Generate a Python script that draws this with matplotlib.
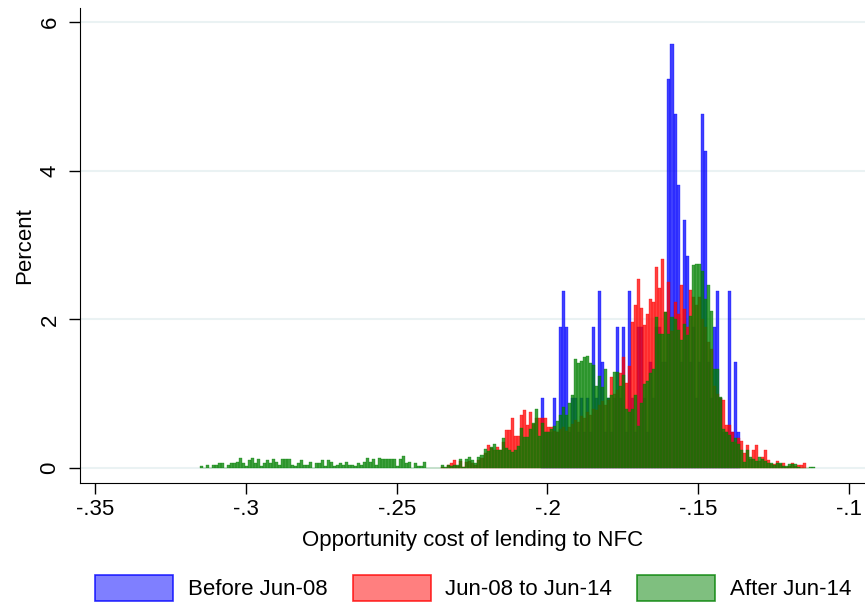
import numpy as np
import matplotlib
matplotlib.use("Agg")
import matplotlib.pyplot as plt
from matplotlib.patches import Patch

plt.rcParams['font.family'] = ['Liberation Sans', 'DejaVu Sans']

# bin width and first bin of each series (percent per bin)
bin_w = 0.001
green_start = -0.3152
red_start = green_start + 80 * bin_w
blue_start = green_start + 113 * bin_w

blue_pct = [0.95, 0.48, 0.48, 0.48, 0.95, 0.48, 1.90, 2.38, 1.90, 0.48,
            0.95, 0.95, 0.48, 0.95, 0.48, 0.95, 0.48, 1.90, 0.95, 2.38,
            1.43, 0.48, 0.95, 0.48, 0.95, 1.90, 0.95, 1.90, 0.48, 2.38,
            0.95, 0.48, 1.90, 1.90, 0.95, 0.48, 1.43, 0.95, 1.90, 1.90,
            1.43, 1.43, 5.24, 5.71, 4.76, 3.81, 1.43, 3.34, 2.85, 1.43,
            1.90, 0.95, 1.43, 4.76, 4.27, 1.43, 0.95, 1.90, 2.38, 0.95,
            0.48, 0.48, 2.38, 0.48, 1.43, 0.48]

red_pct = [0.02, 0.0, 0.04, 0.076, 0.11, 0.03, 0.10, 0.02, 0.08, 0.10,
           0.07, 0.04, 0.11, 0.14, 0.20, 0.31, 0.27, 0.25, 0.28, 0.24,
           0.35, 0.51, 0.51, 0.68, 0.43, 0.43, 0.71, 0.78, 0.58, 0.76,
           0.59, 0.68, 0.68,
           0.68, 0.68, 0.55, 0.55, 0.50, 0.48, 0.52, 0.55, 0.50, 0.55,
           0.60, 0.65, 0.62, 0.70, 0.68, 0.75, 0.72, 0.80, 0.78, 0.85,
           0.90, 0.85, 0.92,
           1.22, 1.00, 1.05, 1.28, 1.49, 1.15, 1.38, 1.96, 2.20, 2.54,
           2.16, 1.93, 2.07, 2.27, 2.23, 2.70, 2.43,
           2.81, 2.10, 2.51, 1.85, 2.23, 2.07, 2.47, 2.14, 1.90, 2.40,
           2.30, 2.20, 2.30, 2.00, 1.90, 1.70, 1.60, 1.10, 1.00, 0.95,
           0.92, 0.58, 0.58, 0.48, 0.35, 0.40, 0.37, 0.21, 0.31, 0.12,
           0.24, 0.31, 0.10, 0.15, 0.24, 0.11, 0.05, 0.06, 0.10, 0.05,
           0.076, 0.02, 0.03, 0.076, 0.03, 0.04, 0.04, 0.076]

green_pct = [0.027, 0, 0.04, 0, 0.04, 0.04, 0.067, 0.067, 0, 0.04,
             0.067, 0.067, 0.08, 0.14, 0.067, 0.027, 0.11, 0.14, 0.067, 0.12,
             0.027, 0.067, 0.11, 0.067, 0.12, 0.08, 0.04, 0.12, 0.12, 0.12,
             0.04, 0.027, 0.067, 0.11, 0.04, 0.04, 0.08, 0, 0.067, 0.067,
             0.11, 0.027, 0.11, 0.08, 0.027, 0.04, 0.067, 0.04, 0.08, 0.04,
             0.04, 0.027, 0.067, 0.04, 0.08, 0.14, 0.08, 0.12, 0.04, 0.14,
             0.12, 0.12, 0.12, 0.12, 0.12, 0.027, 0.12, 0.17, 0.067, 0.08,
             0, 0.067, 0.027, 0.027, 0.08, 0, 0, 0, 0, 0,
             0.04, 0.02, 0.04, 0.03, 0.045, 0.04, 0.12, 0.02, 0.12, 0.15,
             0.11, 0.067, 0.15, 0.175, 0.26, 0.23, 0.28, 0.32, 0.24, 0.24,
             0.40, 0.27, 0.24, 0.22, 0.24, 0.30, 0.54, 0.42, 0.42, 0.53,
             0.61, 0.80, 0.43,
             0.61, 0.48, 0.48, 0.53, 0.57, 0.63, 0.72, 0.82, 0.72, 0.88,
             0.99, 1.47, 1.41, 1.44, 1.49, 1.51, 1.42, 1.39, 1.10, 1.24,
             1.09, 1.34, 0.95, 0.98, 1.30, 1.30, 1.11, 1.25, 0.80, 0.76,
             0.80, 0.98, 0.57, 0.88, 1.13, 1.17, 1.28, 1.33, 2.03, 1.81,
             1.80, 2.10, 1.81, 2.04, 2.01, 1.86, 1.73, 1.94, 1.79, 2.05,
             2.73, 2.74, 2.74, 2.65, 2.27, 2.46, 2.12, 1.34, 1.33,
             0.96, 0.52, 0.48, 0.45, 0.35, 0.40, 0.32, 0.25, 0.085, 0.24,
             0.15, 0.12, 0.10, 0.15, 0.12, 0.10, 0.076, 0.076, 0.04, 0.076,
             0.076, 0.03, 0.03, 0.06, 0.06, 0.06, 0.02, 0, 0, 0, 0.02, 0.02]

labels = ["Before Jun-08", "Jun-08 to Jun-14", "After Jun-14"]
colors = ["#0000FF", "#FF0000", "#008000"]
xticks = [-0.35, -0.3, -0.25, -0.2, -0.15, -0.1]
xticklabels = ["-.35", "-.3", "-.25", "-.2", "-.15", "-.1"]

fig = plt.figure(figsize=(8.65, 6.04), dpi=100)
ax = fig.add_axes([0.0925, 0.2003, 0.9075, 0.7864])

series = [(blue_start, blue_pct), (red_start, red_pct), (green_start, green_pct)]
for (start, vals), c in zip(series, colors):
    left = start + bin_w * np.arange(len(vals))
    ax.bar(left, vals, width=bin_w, align='edge', color=c, alpha=0.75,
           edgecolor=c, linewidth=0.3, zorder=3)

ax.set_xlim(-0.355, -0.0947)
ax.set_ylim(-0.2, 6.19)
ax.set_yticks([0, 2, 4, 6])
ax.set_xticks(xticks)
ax.set_xticklabels(xticklabels)
ax.yaxis.grid(True, color="#EAF2F3", linewidth=1.5, zorder=0)
ax.set_axisbelow(True)
for s in ["top", "right"]:
    ax.spines[s].set_visible(False)
ax.tick_params(axis='both', labelsize=16, length=8, width=1, direction='out')
ax.tick_params(axis='y', pad=6)
for lab in ax.get_yticklabels():
    lab.set_rotation(90)
    lab.set_va('center')
ax.set_xlabel("Opportunity cost of lending to NFC", fontsize=16, labelpad=7)
ax.set_ylabel("Percent", fontsize=16, labelpad=3)

handles = []
for c in colors:
    handles.append(Patch(facecolor=matplotlib.colors.to_rgba(c, 0.5),
                         edgecolor=matplotlib.colors.to_rgba(c, 0.8), linewidth=1.2))
fig.legend(handles, labels, loc='lower center', bbox_to_anchor=(0.547, -0.028),
           ncol=3, frameon=False, fontsize=16, handlelength=3.5,
           handleheight=1.45, handletextpad=0.65, columnspacing=1.15)

fig.savefig("out.png", dpi=100)
